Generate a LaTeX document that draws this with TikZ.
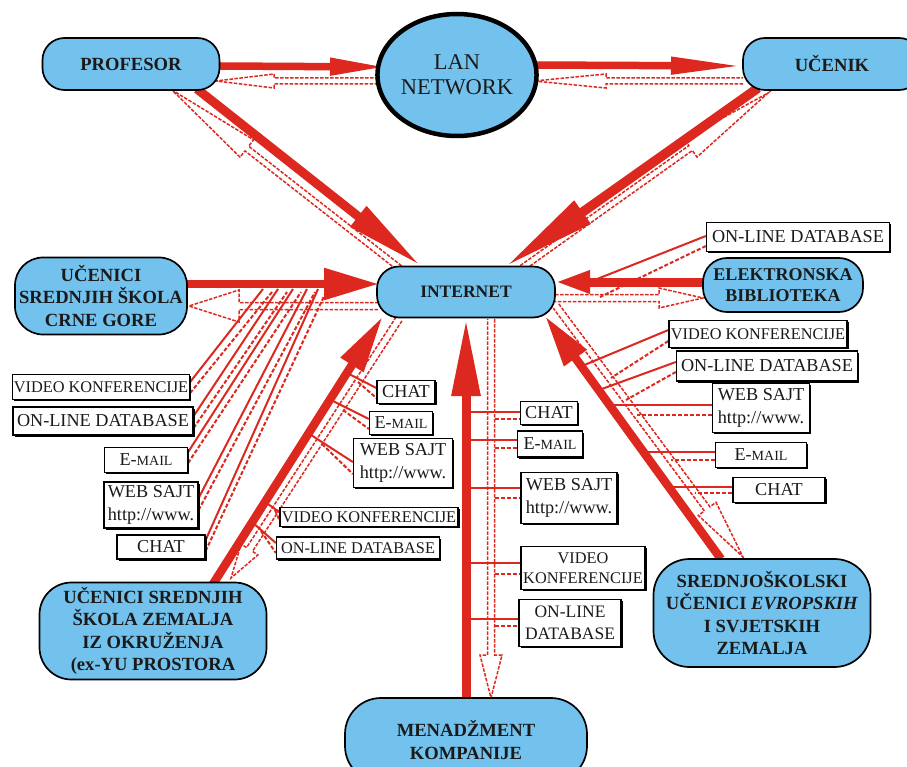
\documentclass[tikz,border=0pt]{standalone}
\usepackage{fontspec}
\setmainfont{Liberation Serif}
\usetikzlibrary{arrows.meta,calc,shapes.geometric,backgrounds,shadows}
\definecolor{nodeblue}{HTML}{73C2EE}
\definecolor{linkred}{HTML}{DC281E}
\definecolor{inkdark}{HTML}{1A1A1A}

\newcommand\fs[2]{\fontsize{#1}{#2}\selectfont}

% dashed outline arrow: #1 start, #2 tip, #3 shaft half width, #4 head half width, #5 head length
\newcommand\hollowflow[5]{%
  \coordinate (hf-base) at ($(#2)!#5!(#1)$);
  \draw[hollow] ($(#1)!#3!90:(#2)$) -- ($(hf-base)!#3!90:(#2)$) -- ($(hf-base)!#4!90:(#2)$)
    -- (#2) -- ($(hf-base)!#4!-90:(#2)$) -- ($(hf-base)!#3!-90:(#2)$) -- ($(#1)!#3!-90:(#2)$);
}

\tikzset{
  hub/.style={draw=black, line width=1.7pt, fill=nodeblue, text=inkdark, align=center,
    inner sep=0pt, font=\bfseries\fs{18.6}{22.3}},
  tag/.style={draw=black, line width=1.3pt, fill=white, text=inkdark, align=center,
    inner sep=0pt, font=\fs{18.2}{23},
    general shadow={fill=black, shadow xshift=1.5pt, shadow yshift=-1.5pt}},
  smalltag/.style={tag, font=\fs{16.3}{20}},
  flow/.style n args={3}{draw=linkred, line width=#1, -{Triangle[length=#2, width=#3]}},
  hollow/.style={draw=linkred, line width=1.5pt, dash pattern=on 3.5pt off 1.5pt, line join=miter},
  link/.style={draw=linkred, line width=2pt},
  linkdash/.style={draw=linkred, line width=2pt, dash pattern=on 4pt off 2pt},
}

\newcommand\email{E-\fs{14}{18}MAIL}

\begin{document}
\begin{tikzpicture}[x=1pt, y=-1pt]
\useasboundingbox (0,0) rectangle (907,767);

% ---------- main nodes ----------
\node[hub, rounded corners=22pt, minimum width=177pt, minimum height=52pt] (prof) at (131,64) {PROFESOR};
\node[draw=black, line width=4.5pt, fill=nodeblue, ellipse, minimum width=136pt, minimum height=122pt,
      inner sep=0pt, align=center, text=inkdark, font=\fs{22.5}{25}] (lan) at (457,75) {LAN\\NETWORK};
\node[hub, rounded corners=22pt, minimum width=178pt, minimum height=52pt] (ucenik) at (832,64) {UČENIK};
\node[hub, rounded corners=22pt, minimum width=178pt, minimum height=51pt, font=\bfseries\fs{17.5}{21}] (inet) at (466,292) {INTERNET};
\node[hub, rounded corners=28pt, minimum width=172pt, minimum height=77pt] (crna) at (101,296) {UČENICI\\SREDNJIH ŠKOLA\\CRNE GORE};
\node[hub, rounded corners=24pt, minimum width=160pt, minimum height=54pt, font=\bfseries\fs{18}{21}] (elek) at (783,285) {ELEKTRONSKA\\BIBLIOTEKA};
\node[hub, rounded corners=32pt, minimum width=227pt, minimum height=97pt] (exyu) at (153,631) {UČENICI SREDNJIH\\ŠKOLA ZEMALJA\\IZ OKRUŽENJA\\(ex-YU PROSTORA};
\node[hub, rounded corners=36pt, minimum width=217pt, minimum height=108pt] (sred) at (762,613) {SREDNJOŠKOLSKI\\UČENICI \textit{EVROPSKIH}\\I SVJETSKIH\\ZEMALJA};
\node[hub, rounded corners=36pt, minimum width=242pt, minimum height=84pt] (men) at (466,740) {MENADŽMENT\\KOMPANIJE};

% ---------- service labels, left ----------
\node[smalltag, minimum width=177pt, minimum height=25pt] (lvk) at (101,387) {VIDEO KONFERENCIJE};
\node[tag, minimum width=180pt, minimum height=28pt] (lodb) at (103,421) {ON-LINE DATABASE};
\node[tag, minimum width=83pt, minimum height=25pt] (lem) at (146,460) {\email};
\node[tag, minimum width=94pt, minimum height=46pt] (lws) at (151,505) {WEB SAJT\\http://www.};
\node[tag, minimum width=88pt, minimum height=24pt] (lch) at (161,547) {CHAT};

% ---------- service labels, middle diagonal ----------
\node[tag, minimum width=58pt, minimum height=23pt] (mch) at (406,392) {CHAT};
\node[tag, minimum width=63pt, minimum height=23pt] (mem) at (401,423) {\email};
\node[tag, minimum width=99pt, minimum height=49pt] (mws) at (403,463) {WEB SAJT\\http://www.};
\node[smalltag, minimum width=178pt, minimum height=19pt] (mvk) at (369,517) {VIDEO KONFERENCIJE};
\node[smalltag, minimum width=163pt, minimum height=22pt] (modb) at (358,548) {ON-LINE DATABASE};

% ---------- service labels, centre column ----------
\node[tag, minimum width=57pt, minimum height=23pt] (cch) at (549,413) {CHAT};
\node[tag, minimum width=65pt, minimum height=26pt] (cem) at (550,444) {\email};
\node[tag, minimum width=96pt, minimum height=51pt] (cws) at (569,498) {WEB SAJT\\http://www.};
\node[smalltag, minimum width=124pt, minimum height=43pt] (cvk) at (583,568) {VIDEO\\KONFERENCIJE};
\node[tag, minimum width=102pt, minimum height=47pt, font=\fs{17.5}{22}] (codb) at (570,623) {ON-LINE\\DATABASE};

% ---------- service labels, right ----------
\node[tag, minimum width=183pt, minimum height=29pt] (rodbtop) at (798,237) {ON-LINE DATABASE};
\node[smalltag, minimum width=178pt, minimum height=27pt] (rvk) at (758,334) {VIDEO KONFERENCIJE};
\node[tag, minimum width=181pt, minimum height=30pt] (rodb) at (767,366) {ON-LINE DATABASE};
\node[tag, minimum width=97pt, minimum height=49pt] (rws) at (761,408) {WEB SAJT\\http://www.};
\node[tag, minimum width=91pt, minimum height=25pt] (rem) at (761,455) {\email};
\node[tag, minimum width=92pt, minimum height=25pt] (rch) at (779,490) {CHAT};

\begin{scope}[on background layer]
% ---------- connector end points ----------
\coordinate (p1a) at (220,66);  \coordinate (p1b) at (388,67);
\coordinate (p2a) at (533,65);  \coordinate (p2b) at (744,66);
\coordinate (p3a) at (197,89);  \coordinate (p3b) at (421,266);
\coordinate (p4a) at (758,88);  \coordinate (p4b) at (505,267);
\coordinate (p5a) at (187,284); \coordinate (p5b) at (379,284);
\coordinate (p6a) at (704,282); \coordinate (p6b) at (555,282);
\coordinate (p7a) at (213,584); \coordinate (p7b) at (383,316);
\coordinate (p8a) at (466,699); \coordinate (p8b) at (466,319);
\coordinate (p9a) at (721,559); \coordinate (p9b) at (545,316);

\coordinate (q1a) at (388,81);  \coordinate (q1b) at (216,81);
\coordinate (q2a) at (743,81);  \coordinate (q2b) at (534,81);
\coordinate (q3a) at (402,270); \coordinate (q3b) at (172,90);
\coordinate (q4a) at (522,268); \coordinate (q4b) at (768,93);
\coordinate (q5a) at (378,306); \coordinate (q5b) at (189,306);
\coordinate (q6a) at (555,298); \coordinate (q6b) at (703,298);
\coordinate (q7a) at (399,319); \coordinate (q7b) at (231,578);
\coordinate (q8a) at (491,319); \coordinate (q8b) at (491,698);
\coordinate (q9a) at (556,306); \coordinate (q9b) at (743,557);

% ---------- main flows (solid) ----------
\draw[flow={7.5pt}{58pt}{16pt}] (p1a) -- (p1b);
\draw[flow={7.5pt}{73pt}{16pt}] (p2a) -- (p2b);
\draw[flow={9pt}{80pt}{24pt}] (p3a) -- (p3b);
\draw[flow={9.5pt}{95pt}{26pt}] (p4a) -- (p4b);
\draw[flow={8.5pt}{55pt}{30pt}] (p5a) -- (p5b);
\draw[flow={9pt}{35pt}{21pt}] (p6a) -- (p6b);
\draw[flow={8.5pt}{58pt}{25pt}] (p7a) -- (p7b);
\draw[flow={9pt}{77pt}{27pt}] (p8a) -- (p8b);
\draw[flow={8.5pt}{52pt}{26pt}] (p9a) -- (p9b);

% ---------- return flows (dashed outline) ----------
\hollowflow{q1a}{q1b}{3pt}{7pt}{58pt}
\hollowflow{q2a}{q2b}{3pt}{7pt}{72pt}
\hollowflow{q3a}{q3b}{3pt}{11pt}{95pt}
\hollowflow{q4a}{q4b}{3pt}{11pt}{95pt}
\hollowflow{q5a}{q5b}{3.5pt}{16pt}{50pt}
\hollowflow{q6a}{q6b}{3.5pt}{10pt}{44pt}
\hollowflow{q7a}{q7b}{3.5pt}{10pt}{34pt}
\hollowflow{q8a}{q8b}{3.5pt}{11pt}{43pt}
\hollowflow{q9a}{q9b}{3.5pt}{11pt}{60pt}

% ---------- left fan to the Crne Gore flow ----------
\coordinate (f1) at (263,289); \coordinate (g1) at (272,292);
\coordinate (f2) at (278,289); \coordinate (g2) at (287,292);
\coordinate (f3) at (293,289); \coordinate (g3) at (301,292);
\coordinate (f4) at (307,289); \coordinate (g4) at (315,292);
\coordinate (f5) at (318,289); \coordinate (g5) at (326,292);
\draw[link] ([yshift=5pt]lvk.east) -- (f1);   \draw[linkdash] ([yshift=-6pt]lvk.east) -- (g1);
\draw[link] ([yshift=5pt]lodb.east) -- (f2);  \draw[linkdash] ([yshift=-7pt]lodb.east) -- (g2);
\draw[link] ([yshift=8pt]lem.east) -- (f3);   \draw[linkdash] ([yshift=-3pt]lem.east) -- (g3);
\draw[link] ([yshift=7pt]lws.east) -- (f4);   \draw[linkdash] ([yshift=-5pt]lws.east) -- (g4);
\draw[link] ([yshift=7pt]lch.east) -- (f5);   \draw[linkdash] ([yshift=-4pt]lch.east) -- (g5);

% ---------- middle fan to the ex-YU flow ----------
\coordinate (m1) at (347,373); \coordinate (n1) at (358,382);
\coordinate (m2) at (331,400); \coordinate (n2) at (343,410);
\coordinate (m3) at (311,435); \coordinate (n3) at (322,444);
\coordinate (m4) at (265,502); \coordinate (n4) at (275,510);
\coordinate (m5) at (252,522); \coordinate (n5) at (261,531);
\draw[link] (m1) -- ([yshift=4pt]mch.west);   \draw[linkdash] (n1) -- ([yshift=-6pt]mch.west);
\draw[link] (m2) -- ([yshift=4pt]mem.west);   \draw[linkdash] (n2) -- ([yshift=-6pt]mem.west);
\draw[link] (m3) -- ([yshift=1pt]mws.west);   \draw[linkdash] (n3) -- ([yshift=-11pt]mws.west);
\draw[link] (m4) -- ([yshift=5pt]mvk.west);   \draw[linkdash] (n4) -- ([yshift=-3pt]mvk.west);
\draw[link] (m5) -- ([yshift=5pt]modb.west);  \draw[linkdash] (n5) -- ([yshift=-5pt]modb.west);

% ---------- centre column to the management flow ----------
\foreach \lab/\up/\dn in {cch/1/-6, cem/4/-4, cws/10/0, cvk/5/-6, codb/4/-3}{
  \draw[link] let \p1=($(\lab.west)+(0,-\up)$) in (470pt,\y1) -- (\p1);
  \draw[linkdash] let \p1=($(\lab.west)+(0,-\dn)$) in (494.5pt,\y1) -- (\p1);
}

% ---------- right fan to the European students flow ----------
\coordinate (r1) at (582,366); \coordinate (s1) at (611,378);
\coordinate (r2) at (599,390); \coordinate (s2) at (626,400);
\coordinate (r3) at (610,405); \coordinate (s3) at (637,415);
\coordinate (r4) at (643,452); \coordinate (s4) at (671,460);
\coordinate (r5) at (669,487); \coordinate (s5) at (695,493);
\draw[link] ([yshift=4pt]rvk.west) -- (r1);   \draw[linkdash] ([yshift=-7pt]rvk.west) -- (s1);
\draw[link] ([yshift=4pt]rodb.west) -- (r2);  \draw[linkdash] ([yshift=-6pt]rodb.west) -- (s2);
\draw[link] ([yshift=3pt]rws.west) -- (r3);   \draw[linkdash] ([yshift=-7pt]rws.west) -- (s3);
\draw[link] ([yshift=3pt]rem.west) -- (r4);   \draw[linkdash] ([yshift=-5pt]rem.west) -- (s4);
\draw[link] ([yshift=3pt]rch.west) -- (r5);   \draw[linkdash] ([yshift=-3pt]rch.west) -- (s5);

% ---------- on-line database to the library flow ----------
\coordinate (t1) at (592,281); \coordinate (u1) at (600,297);
\draw[link] ([yshift=1pt]rodbtop.west) -- (t1);
\draw[linkdash] ([yshift=-9pt]rodbtop.west) -- (u1);
\end{scope}
\end{tikzpicture}
\end{document}
